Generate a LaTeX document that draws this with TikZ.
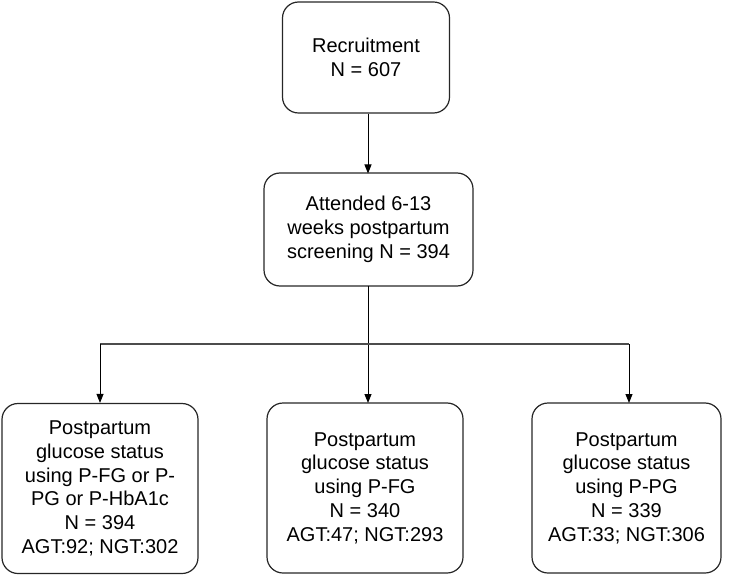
\documentclass[tikz,border=0pt]{standalone}
\usepackage{fontspec}
\setmainfont{Liberation Sans}
\usetikzlibrary{arrows.meta}
\begin{document}
\begin{tikzpicture}[x=1pt,y=-1pt,
  box/.style={draw=black!85, line width=1.2pt, rounded corners=16pt, align=center,
    font=\fontsize{20}{23.7}\selectfont, inner sep=0pt},
  arr/.style={draw=black, line width=1pt, -{Triangle[length=9pt,width=7pt]}},
  bus/.style={draw=black!70, line width=1.5pt}]
\useasboundingbox (0,0) rectangle (730,577);
\node[box, minimum width=167pt, minimum height=111pt] (rec) at (366,57.5) {Recruitment\\N = 607};
\node[box, minimum width=209pt, minimum height=113pt] (att) at (368.5,229.5) {Attended 6-13\\weeks postpartum\\screening N = 394};
\node[box, minimum width=196pt, minimum height=170pt] (all) at (100,488.5) {Postpartum\\glucose status\\using P-FG or P-\\PG or P-HbA1c\\N = 394\\AGT:92; NGT:302};
\node[box, minimum width=196pt, minimum height=170pt] (fg) at (365,488) {Postpartum\\glucose status\\using P-FG\\N = 340\\AGT:47; NGT:293};
\node[box, minimum width=189pt, minimum height=170pt] (pg) at (626.5,488) {Postpartum\\glucose status\\using P-PG\\N = 339\\AGT:33; NGT:306};
\coordinate (busl) at (100,344);
\coordinate (busr) at (629,344);
\draw[arr] (rec.south -| 368,0) -- (368,173.5);
\draw[arr] (368,286) -- (368,403);
\draw[bus] (busl) -- (busr);
\draw[arr] (busl) -- (all.north);
\draw[arr] (busr) -- (629,403);
\end{tikzpicture}
\end{document}
